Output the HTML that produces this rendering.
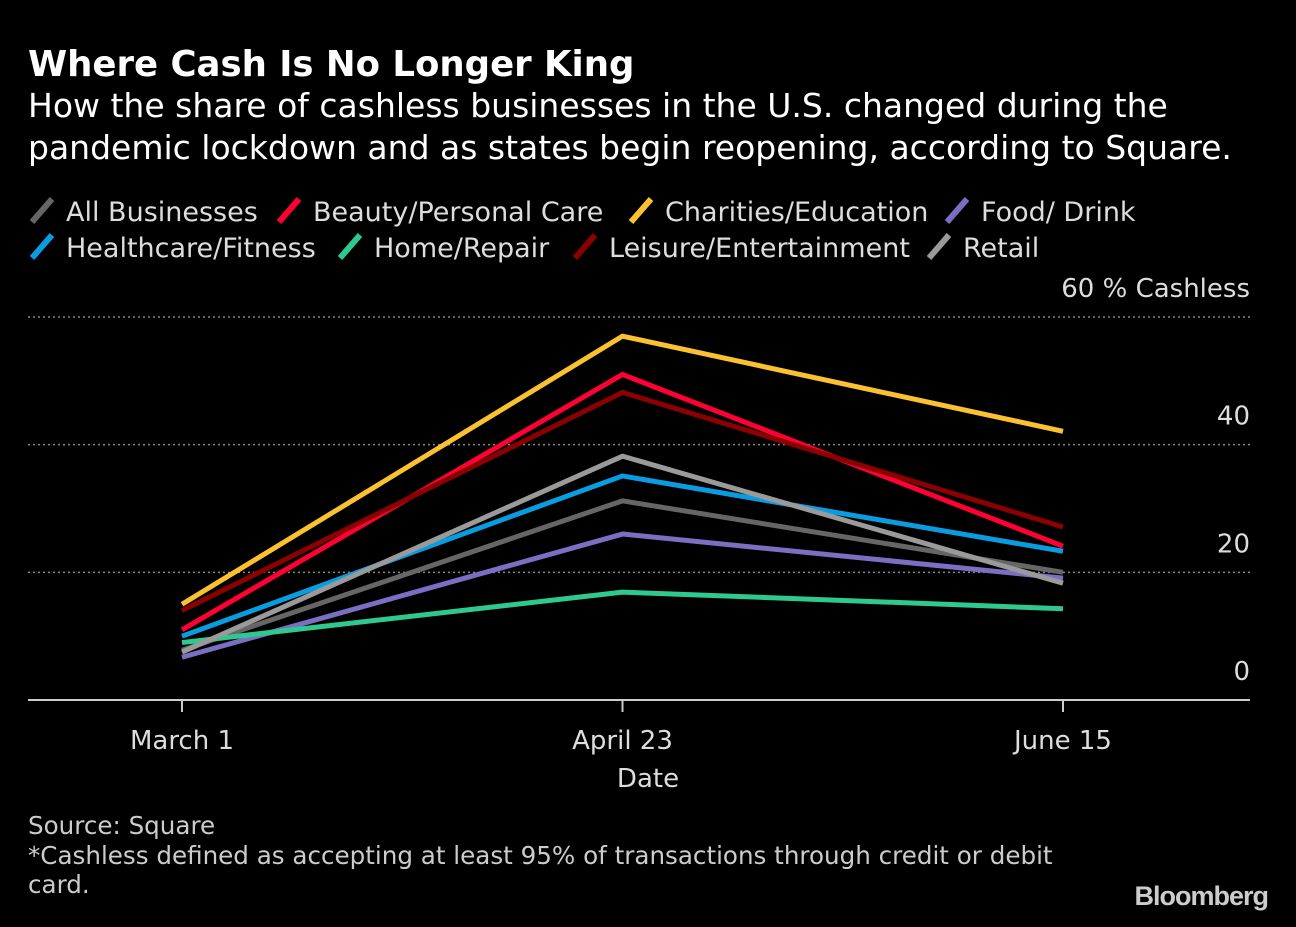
<!DOCTYPE html>
<html><head><meta charset="utf-8">
<style>
html,body{margin:0;padding:0;background:#000;}
body{width:1296px;height:922px;overflow:hidden;font-family:"Liberation Sans","DejaVu Sans",sans-serif;}
</style></head>
<body>
<svg width="1296" height="922" xmlns="http://www.w3.org/2000/svg" font-family="'DejaVu Sans','Liberation Sans',sans-serif">
<text x="28" y="76" fill="#fff" font-size="35.5" font-weight="bold" font-family="'DejaVu Sans',sans-serif">Where Cash Is No Longer King</text>
<text x="28" y="117" fill="#fff" font-size="33">How the share of cashless businesses in the U.S. changed during the</text>
<text x="28" y="159" fill="#fff" font-size="33">pandemic lockdown and as states begin reopening, according to Square.</text>
<g id="legend"></g>
<g id="grid"></g>
<g id="series"></g>
<g id="xaxis"></g>
<text x="648" y="787" fill="#ddd" font-size="26" text-anchor="middle">Date</text>
<text x="28" y="834" fill="#ccc" font-size="24.6">Source: Square</text>
<text x="28" y="864" fill="#ccc" font-size="24.6">*Cashless defined as accepting at least 95% of transactions through credit or debit</text>
<text x="28" y="893" fill="#ccc" font-size="24.6">card.</text>
<text x="1268" y="905" fill="#ccc" font-size="27" font-weight="bold" text-anchor="end" font-family="'Liberation Sans',sans-serif" letter-spacing="-1">Bloomberg</text>
</svg>
<script>
const categories = ["March 1","April 23","June 15"];
const seriesNames = ["All Businesses","Beauty/Personal Care","Charities/Education","Food/ Drink","Healthcare/Fitness","Home/Repair","Leisure/Entertainment","Retail"];
const allBusinesses = [7.8,31.2,20.0];
const beauty = [11.0,51.0,24.1];
const charities = [15.0,57.0,42.1];
const food = [6.7,26.0,19.1];
const healthcare = [10.0,35.1,23.3];
const home = [9.0,16.9,14.3];
const leisure = [14.0,48.2,27.1];
const retail = [7.5,38.2,18.3];
const yTicks = [0,20,40,60];
const yTickLabels = ["0","20","40","60 % Cashless"];

const colors = ["#666666","#ff0033","#fcc12f","#7b6fc3","#0a9ce0","#2ec98e","#8b0000","#9a9a9a"];
const values = [allBusinesses,beauty,charities,food,healthcare,home,leisure,retail];
const NS="http://www.w3.org/2000/svg";
function y(v){return 700-(v/60)*383;}
function x(i){return 182+i*440.5;}
function mk(tag,attrs,parent){const e=document.createElementNS(NS,tag);for(const k in attrs)e.setAttribute(k,attrs[k]);parent.appendChild(e);return e;}

const grid=document.getElementById('grid');
yTicks.forEach((t,i)=>{
  if(t>0){const l=mk('line',{x1:28,x2:1250,y1:y(t),y2:y(t),stroke:'#888','stroke-width':1.5,'stroke-dasharray':'2,3'},grid);
  
  }
  const tx=mk('text',{x:1250,y:y(t)-20,fill:'#ddd','font-size':26,'text-anchor':'end'},grid);
  
  
  tx.textContent=yTickLabels[i];
});
const xa=document.getElementById('xaxis');
const al=mk('line',{x1:28,x2:1250,y1:700,y2:700,stroke:'#ccc','stroke-width':2},xa);


categories.forEach((c,i)=>{
  const tk=mk('line',{x1:x(i),x2:x(i),y1:700,y2:712,stroke:'#ccc','stroke-width':2},xa);
  
  
  const t=mk('text',{x:x(i),y:749,fill:'#ddd','font-size':26,'text-anchor':'middle'},xa);
  
  
  t.textContent=c;
});
const sg=document.getElementById('series');
values.forEach((vals,s)=>{
  const p=mk('polyline',{points:vals.map((v,i)=>x(i)+','+y(v)).join(' '),fill:'none',stroke:colors[s],'stroke-width':5,'stroke-linejoin':'round'},sg);
  
  
});
const lg=document.getElementById('legend');
const pos=[[32,222],[279,222],[631,222],[947,222],[32,258],[340,258],[575,258],[929,258]];
seriesNames.forEach((n,s)=>{
  const [px,py]=pos[s];
  const g=mk('g',{},lg);
  
  
  mk('line',{x1:px,y1:py,x2:px+20,y2:py-23,stroke:colors[s],'stroke-width':6},g);
  const t=mk('text',{x:px+34,y:py-1,fill:'#ddd','font-size':27},g);
  t.textContent=n;
});
</script>
</body></html>
